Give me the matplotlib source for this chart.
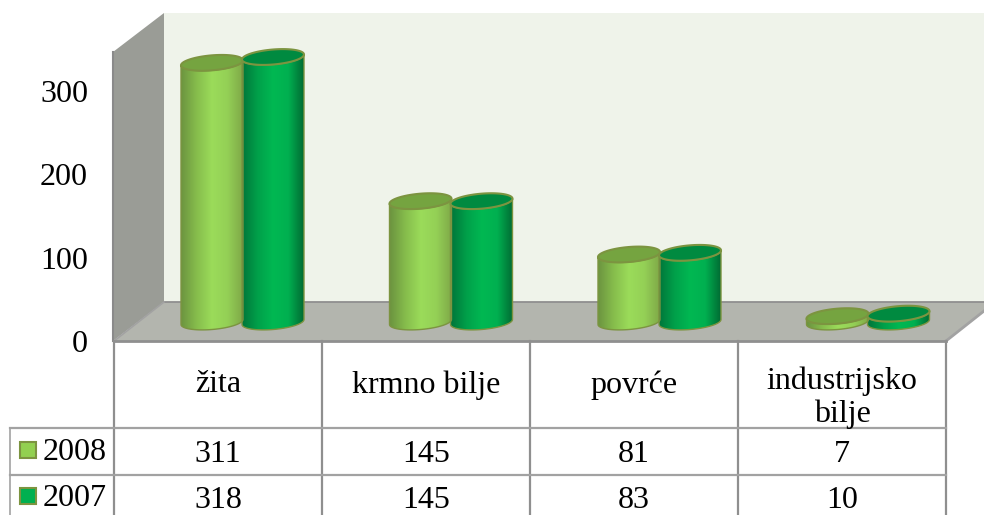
#!/usr/bin/env python3
"""3D-look cylinder chart with a data table below it (pixel layout of the source)."""
import matplotlib

matplotlib.use("Agg")
import matplotlib.pyplot as plt
import numpy as np
from matplotlib.colors import LinearSegmentedColormap
from matplotlib.patches import PathPatch, Polygon, Rectangle
from matplotlib.path import Path

CATEGORIES = ["žita", "krmno bilje", "povrće", "industrijsko\nbilje"]
YEARS = ["2008", "2007"]
VALUES_2008 = [311, 145, 81, 7]
VALUES_2007 = [318, 145, 83, 10]
YTICKS = [0, 100, 200, 300]

W, H = 984, 515
PX_PER_UNIT = 0.8333
FONT = "Liberation Serif"
FS = 23
GRID = "#8f8f8f"
GRID_H = "#a2a2a2"

STYLES = {
    "2008": dict(body=["#6c9440", "#86bd4c", "#9bdc5a", "#94d056", "#7fa948"], top="#75a440", edge="#7c9440", key="#92d050"),
    "2007": dict(body=["#00763a", "#00a04a", "#00b852", "#00b050", "#006b33"], top="#008a40", edge="#7c9440", key="#00b050"),
}

fig = plt.figure(figsize=(W / 100, H / 100), dpi=100)

# background, walls and table are laid out in pixels
deco = fig.add_axes([0, 0, 1, 1], zorder=1)
deco.set_xlim(0, W)
deco.set_ylim(H, 0)
deco.axis("off")

deco.add_patch(Polygon([(164, 13), (W, 13), (W, 302), (164, 302)], fc="#eff3ea", ec="none"))
deco.add_patch(Polygon([(113, 52), (164, 13), (164, 302), (113, 341)], fc="#9a9c96", ec="none"))
deco.add_patch(Polygon([(114, 341), (164, 302), (W, 302), (W, 311), (946, 341)], fc="#b3b5ae", ec="none"))
deco.plot([164, W], [302, 302], color=GRID, lw=1.3)
deco.plot([114, 164], [341, 302], color=GRID_H, lw=1.2)
deco.plot([946, W], [341, 311], color=GRID_H, lw=2)
deco.plot([113, 113], [52, 341], color="#8a8a8a", lw=1.5)

col_x = [114, 322, 530, 738, 946]
for x in col_x:
    deco.plot([x, x], [341, H], color=GRID, lw=1.6)
deco.plot([114, 946], [341, 341], color=GRID, lw=2)
for y in (428, 475):
    deco.plot([10, 946], [y, y], color=GRID_H, lw=1.6)
deco.plot([10, 10], [428, H], color=GRID_H, lw=1.2)

row_y = [454, 500]
row_values = [VALUES_2008, VALUES_2007]
for i, cat in enumerate(CATEGORIES):
    cx = (col_x[i] + col_x[i + 1]) / 2
    y = 398 if "\n" in cat else 385
    deco.text(cx, y, cat, ha="center", va="center", family=FONT, fontsize=FS, linespacing=1.15)
    for y, vals in zip(row_y, row_values):
        deco.text(cx, y, str(vals[i]), ha="center", va="center", family=FONT, fontsize=FS)

for y, year in zip(row_y, YEARS):
    deco.add_patch(Rectangle((20, y - 12), 16, 16, fc=STYLES[year]["key"], ec=STYLES[year]["edge"], lw=1.5))
    deco.text(43, y - 2, year, ha="left", va="center", family=FONT, fontsize=FS)

# value axis, baseline sits on the front edge of the floor
val = fig.add_axes([113 / W, 1 - 341 / H, 1 / W, 341 / H], zorder=2)
val.patch.set_alpha(0)
val.set_ylim(0, 341 / PX_PER_UNIT)
val.set_xticks([])
val.set_yticks(YTICKS)
val.set_yticklabels([str(t) for t in YTICKS], family=FONT, fontsize=FS)
val.tick_params(axis="y", length=0, pad=18)
for s in val.spines.values():
    s.set_visible(False)

# cylinders: x in category units, y in chart units, base on the floor middle
BASE_PX = 322
CAT_0 = 242.5
CAT_STEP = 208.5
ax = fig.add_axes([0, 0, 1, 1], zorder=3)
ax.patch.set_alpha(0)
ax.axis("off")
xlim = (-CAT_0 / CAT_STEP, (W - CAT_0) / CAT_STEP)
ylim = ((BASE_PX - H) / PX_PER_UNIT, BASE_PX / PX_PER_UNIT)

HALF_W = 31 / CAT_STEP
HALF_H = 7.5 / PX_PER_UNIT
SKEW = 2.5 / PX_PER_UNIT
OFFSET = 30.5 / CAT_STEP


def ell(cx, cy, t):
    return np.column_stack([cx + HALF_W * np.cos(t), cy + HALF_H * np.sin(t) + SKEW * np.cos(t)])


def cylinder(cx, v, st):
    cmap = LinearSegmentedColormap.from_list("c", st["body"])
    # front half of the base ellipse, then back over the top one
    front = ell(cx, 0, np.linspace(-np.pi, 0, 40))
    back = ell(cx, v, np.linspace(0, -np.pi, 40))
    pts = np.vstack([front, back, front[:1]])
    body = Path(pts)
    img = ax.imshow(np.linspace(0, 1, 128).reshape(1, -1), cmap=cmap, aspect="auto",
                    extent=(cx - HALF_W, cx + HALF_W, -HALF_H - SKEW, v + HALF_H + SKEW), zorder=4)
    patch = PathPatch(body, fc="none", ec=st["edge"], lw=1.0, zorder=5)
    ax.add_patch(patch)
    img.set_clip_path(patch)
    top = ell(cx, v, np.linspace(0, 2 * np.pi, 80))
    ax.add_patch(Polygon(top, closed=True, fc=st["top"], ec=st["edge"], lw=1.5, zorder=6))


for i in range(len(CATEGORIES)):
    cylinder(i - OFFSET, VALUES_2008[i], STYLES["2008"])
    cylinder(i + OFFSET, VALUES_2007[i], STYLES["2007"])
ax.set_xlim(xlim)
ax.set_ylim(ylim)

fig.savefig("out.png", dpi=100)
